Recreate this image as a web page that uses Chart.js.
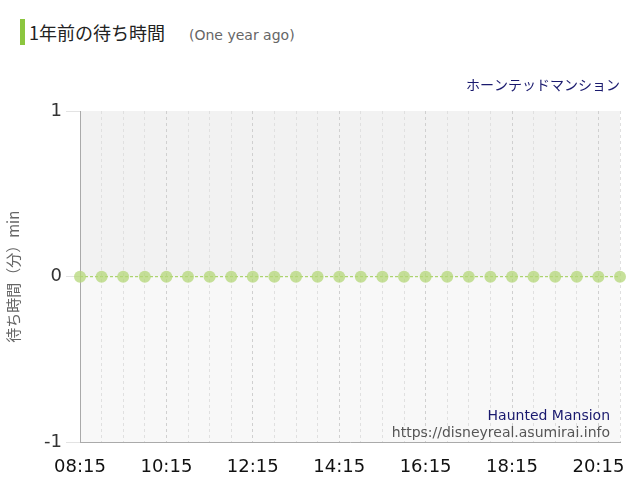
<!DOCTYPE html><html><head><meta charset="utf-8">
<script src="https://cdn.jsdelivr.net/npm/chart.js@4"></script>
<style>body{margin:0;background:#fff;font-family:"Noto Sans CJK JP","Noto Sans",sans-serif}
#h{position:absolute;left:20px;top:19px;height:26px;border-left:5px solid #8cc63f;padding-left:4px;font-size:18px;line-height:26px;color:#222}
#h span{font-size:14px;color:#666;margin-left:24px;font-family:"DejaVu Sans",sans-serif}
#w{position:absolute;left:0;top:70px;width:640px;height:430px}</style></head><body>
<div id="h">1年前の待ち時間<span>(One year ago)</span></div>
<div id="w"><canvas id="c"></canvas></div>
<script>
const times=[];for(let m=8*60+15;m<=20*60+45;m+=30){times.push(String(Math.floor(m/60)).padStart(2,'0')+':'+String(m%60).padStart(2,'0'));}
const waits=times.map(()=>0);
const yTicks=[-1,0,1];
const bg={id:'bg',beforeDraw(c){const a=c.chartArea,y=c.scales.y,x=c.ctx;const z=y.getPixelForValue(0);
x.save();x.fillStyle='#f2f2f2';x.fillRect(a.left,a.top,a.right-a.left,z-a.top);x.fillStyle='#f8f8f8';x.fillRect(a.left,z,a.right-a.left,a.bottom-z);x.restore();},
afterDraw(c){const a=c.chartArea,x=c.ctx;x.save();x.textAlign='right';x.fillStyle='#1a1a6e';x.font='14px "Noto Sans CJK JP"';x.fillText('ホーンテッドマンション',a.right,20);
x.font='14px "DejaVu Sans"';x.fillText('Haunted Mansion',610,350);x.fillStyle='#555';x.fillText('https://disneyreal.asumirai.info',610,367);x.restore();}};
new Chart(document.getElementById('c'),{type:'line',data:{labels:times,datasets:[{data:waits,borderColor:'#9ccc50',borderWidth:1,borderDash:[3,2],pointRadius:6,pointHoverRadius:6,pointBackgroundColor:'rgba(180,215,120,0.75)',pointBorderWidth:0}]},
options:{responsive:true,maintainAspectRatio:false,animation:false,layout:{padding:{top:41,right:20,left:0,bottom:8}},plugins:{legend:{display:false},tooltip:{enabled:false}},
scales:{x:{offset:false,grid:{color:(ctx)=>ctx.index%4===0?'#d0d0d0':'#e0e0e0',drawTicks:false},border:{display:true,color:'#aaa',dash:[3,3]},ticks:{autoSkip:false,maxRotation:0,padding:14,color:'#111',font:{size:18,family:'DejaVu Sans'},callback:(v,i)=>i%4===0?times[i]:''}},
y:{min:-1,max:1,afterFit:s=>{s.width=80;},afterBuildTicks:s=>{s.ticks=yTicks.map(v=>({value:v}));},grid:{color:'#e3e3e3',drawOnChartArea:false,tickLength:14},border:{color:'#aaa'},ticks:{color:'#333',padding:4,font:{size:18,family:'DejaVu Sans'}},title:{display:true,text:'待ち時間（分）min',color:'#666',font:{size:15,family:'Noto Sans CJK JP'}}}}},plugins:[bg]});
</script></body></html>
